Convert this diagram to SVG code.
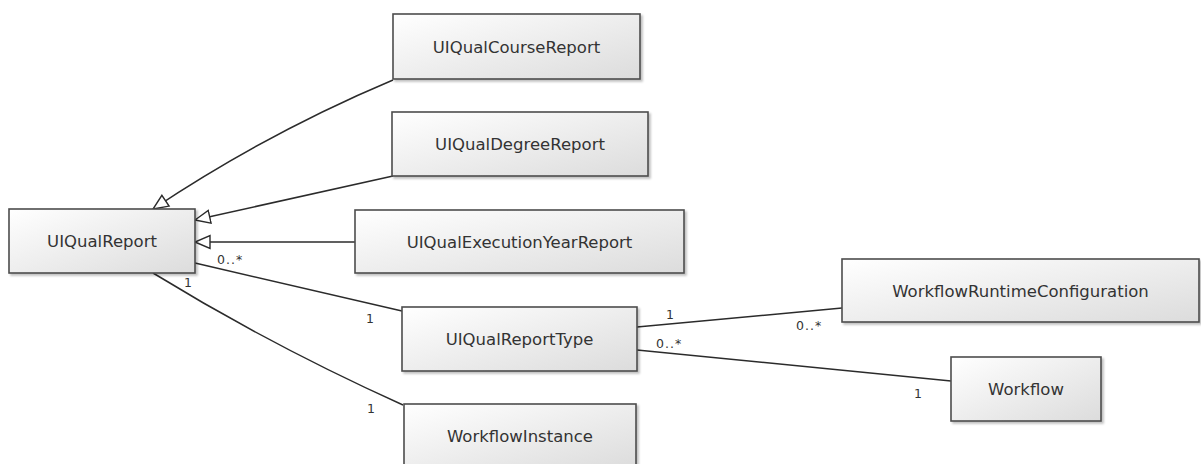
<svg xmlns="http://www.w3.org/2000/svg" width="1201" height="464" viewBox="0 0 1201 464">
<style>
.box{fill:url(#g);stroke:#4d4d4d;stroke-width:1.6;filter:url(#sh)}
.t{font-family:"DejaVu Sans",Verdana,sans-serif;font-size:16.5px;fill:#333;text-anchor:middle}
.m{font-family:"DejaVu Sans",Verdana,sans-serif;font-size:12.5px;fill:#333;letter-spacing:1px}
.c{fill:none;stroke:#2b2b2b;stroke-width:1.5}
.gen{marker-end:url(#tri)}
</style>
<defs>
<linearGradient id="g" x1="0" y1="0" x2="1" y2="1">
<stop offset="0" stop-color="#ffffff"/>
<stop offset="1" stop-color="#dcdcdc"/>
</linearGradient>
<filter id="sh" x="-5%" y="-10%" width="115%" height="130%">
<feDropShadow dx="2" dy="2" stdDeviation="1.2" flood-color="#000" flood-opacity="0.25"/>
</filter>
<marker id="tri" viewBox="-16 -8 18 16" refX="0" refY="0" markerWidth="18" markerHeight="16" markerUnits="userSpaceOnUse" orient="auto">
<path d="M0,0 L-15,-6.5 L-15,6.5 Z" fill="#fff" stroke="#2b2b2b" stroke-width="1.4"/>
</marker>
</defs>
<rect width="1201" height="464" fill="#fff"/>
<g id="connectors">
<path class="c gen" d="M393,80 Q267,133 153,209"/>
<path class="c gen" d="M393,176 L195,220"/>
<path class="c gen" d="M355,242 L195,242"/>
<path class="c" d="M195,263 L402,311"/>
<path class="c" d="M153,273 Q272,346 403,405"/>
<path class="c" d="M637,327 L842,308"/>
<path class="c" d="M637,350 L951,381"/>
<text class="m" x="217" y="264">0..*</text>
<text class="m" x="184" y="287">1</text>
<text class="m" x="366" y="323">1</text>
<text class="m" x="367" y="413">1</text>
<text class="m" x="666" y="319">1</text>
<text class="m" x="796" y="330">0..*</text>
<text class="m" x="656" y="348">0..*</text>
<text class="m" x="914" y="398">1</text>
</g>
<g id="UIQualReport"><rect class="box" x="9" y="209" width="186" height="64"/><text class="t" x="102" y="247">UIQualReport</text></g>
<g id="UIQualCourseReport"><rect class="box" x="393" y="14" width="247" height="65"/><text class="t" x="516.5" y="52.5">UIQualCourseReport</text></g>
<g id="UIQualDegreeReport"><rect class="box" x="392" y="112" width="256" height="64"/><text class="t" x="520" y="150">UIQualDegreeReport</text></g>
<g id="UIQualExecutionYearReport"><rect class="box" x="355" y="210" width="329" height="63"/><text class="t" x="519.5" y="247.5">UIQualExecutionYearReport</text></g>
<g id="UIQualReportType"><rect class="box" x="402" y="307" width="235" height="64"/><text class="t" x="519.5" y="345">UIQualReportType</text></g>
<g id="WorkflowInstance"><rect class="box" x="404" y="404" width="232" height="64"/><text class="t" x="520" y="442">WorkflowInstance</text></g>
<g id="WorkflowRuntimeConfiguration"><rect class="box" x="842" y="259" width="357" height="63"/><text class="t" x="1020.5" y="296.5">WorkflowRuntimeConfiguration</text></g>
<g id="Workflow"><rect class="box" x="951" y="357" width="150" height="64"/><text class="t" x="1026" y="395">Workflow</text></g>
</svg>
